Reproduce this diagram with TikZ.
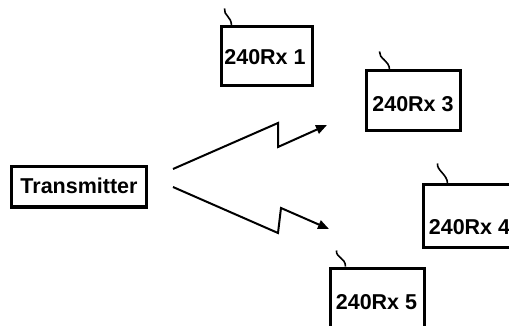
\documentclass[tikz,border=0pt]{standalone}
\usepackage{fontspec}
\setmainfont{Liberation Sans}
\usetikzlibrary{arrows.meta,calc}
\begin{document}
\begin{tikzpicture}[x=1pt,y=-1pt,
  rxbox/.style={draw,line width=3pt,inner sep=0pt},
  lbl/.style={font=\fontsize{21.5}{24}\selectfont\bfseries,inner sep=0pt},
  ray/.style={line width=2pt,-{Triangle[length=11pt,width=9pt]}},
  ant/.style={line width=1.6pt}]
\useasboundingbox (0,0) rectangle (509,326);
\clip (0,0) rectangle (509,326);
% boxes
\node[rxbox,minimum width=135pt,minimum height=40pt] (tx) at (78.5,187) {};
\node[lbl] (txl) at (79,186) {Transmitter};
\node[rxbox,minimum width=91pt,minimum height=59pt] (r1) at (266.5,56.5) {};
\node[lbl] (r1l) at (265,57) {240Rx 1};
\node[rxbox,minimum width=94pt,minimum height=60pt] (r3) at (413,101) {};
\node[lbl] (r3l) at (413,104.5) {240Rx 3};
\node[rxbox,minimum width=100pt,minimum height=62pt] (r4) at (473,216) {};
\node[lbl] (r4l) at (469.5,227.5) {240Rx 4};
\node[rxbox,minimum width=94pt,minimum height=66pt] (r5) at (377,301) {};
\node[lbl] (r5l) at (376.5,302.5) {240Rx 5};
% antennas
\draw[ant] ($(r1.north west)+(5,-17)$) coordinate (a1)
  .. controls ++(-1,7) and ++(0,-9) .. ($(r1.north west)+(12,0)$);
\draw[ant] ($(r3.north west)+(15,-18)$) coordinate (a3)
  .. controls ++(-1,7) and ++(0,-9) .. ($(r3.north west)+(25,0)$);
\draw[ant] ($(r4.north west)+(16,-20)$) coordinate (a4)
  .. controls ++(-1,7) and ++(0,-9) .. ($(r4.north west)+(26,0)$);
\draw[ant] ($(r5.north west)+(8,-16)$) coordinate (a5)
  .. controls ++(-1,7) and ++(0,-9) .. ($(r5.north west)+(17,0)$);
% rays
\coordinate (u0) at (173,169);
\coordinate (u1) at (278,123);
\coordinate (u2) at (278,147);
\coordinate (u3) at (327,125);
\coordinate (l0) at (173,187);
\coordinate (l1) at (278,233);
\coordinate (l2) at (281,208);
\coordinate (l3) at (329,229);
\draw[ray,line join=miter] (u0) -- (u1) -- (u2) -- (u3);
\draw[ray,line join=miter] (l0) -- (l1) -- (l2) -- (l3);
\end{tikzpicture}
\end{document}
